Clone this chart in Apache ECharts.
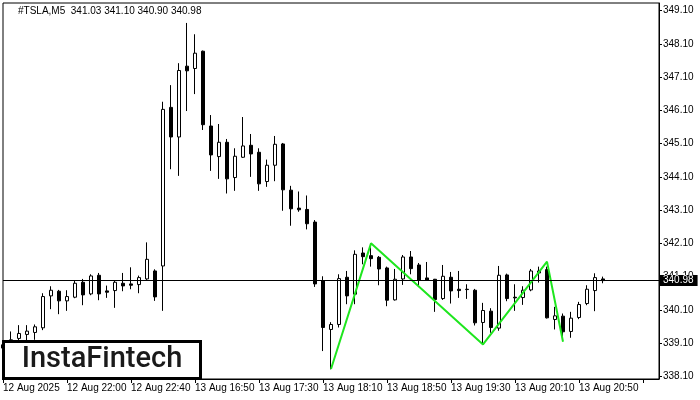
<!DOCTYPE html>
<html>
<head>
<meta charset="utf-8">
<script src="https://cdn.jsdelivr.net/npm/echarts@6/dist/echarts.min.js"></script>
<style>html,body{margin:0;padding:0;background:#fff}#c{width:700px;height:400px}</style>
</head>
<body>
<div id="c"></div>
<script>
const categories = [
 '12 Aug 21:20','12 Aug 21:25','12 Aug 21:30','12 Aug 21:35','12 Aug 21:40','12 Aug 21:45','12 Aug 21:50','12 Aug 21:55',
 '12 Aug 22:00','12 Aug 22:05','12 Aug 22:10','12 Aug 22:15','12 Aug 22:20','12 Aug 22:25','12 Aug 22:30','12 Aug 22:35',
 '12 Aug 22:40','12 Aug 22:45','12 Aug 22:50','12 Aug 22:55',
 '13 Aug 16:30','13 Aug 16:35','13 Aug 16:40','13 Aug 16:45','13 Aug 16:50','13 Aug 16:55','13 Aug 17:00','13 Aug 17:05',
 '13 Aug 17:10','13 Aug 17:15','13 Aug 17:20','13 Aug 17:25','13 Aug 17:30','13 Aug 17:35','13 Aug 17:40','13 Aug 17:45',
 '13 Aug 17:50','13 Aug 17:55','13 Aug 18:00','13 Aug 18:05','13 Aug 18:10','13 Aug 18:15','13 Aug 18:20','13 Aug 18:25',
 '13 Aug 18:30','13 Aug 18:35','13 Aug 18:40','13 Aug 18:45','13 Aug 18:50','13 Aug 18:55','13 Aug 19:00','13 Aug 19:05',
 '13 Aug 19:10','13 Aug 19:15','13 Aug 19:20','13 Aug 19:25','13 Aug 19:30','13 Aug 19:35','13 Aug 19:40','13 Aug 19:45',
 '13 Aug 19:50','13 Aug 19:55','13 Aug 20:00','13 Aug 20:05','13 Aug 20:10','13 Aug 20:15','13 Aug 20:20','13 Aug 20:25',
 '13 Aug 20:30','13 Aug 20:35','13 Aug 20:40','13 Aug 20:45','13 Aug 20:50','13 Aug 20:55','13 Aug 21:00','13 Aug 21:05'
];
// empty future slots on the right of the last bar (MT4 chart shift)
const futureSlots = ['13 Aug 21:10','13 Aug 21:15','13 Aug 21:20','13 Aug 21:25','13 Aug 21:30','13 Aug 21:35','13 Aug 21:40'];

const openP = [338.95,339.10,339.24,339.36,339.42,339.56,340.52,340.66,340.37,340.48,340.93,340.58,341.14,340.67,340.68,340.90,340.88,340.86,341.03,341.27,
 341.42,346.19,345.30,347.43,347.36,347.88,345.63,344.71,345.14,344.08,344.69,345.05,344.84,343.96,344.45,345.09,343.70,343.16,343.12,342.74,
 340.97,339.51,339.66,341.08,340.57,341.81,341.73,341.68,341.36,340.40,341.03,341.69,341.45,341.06,341.02,340.44,341.08,340.72,340.72,340.69,
 339.72,340.06,339.55,341.15,340.48,340.47,340.70,341.21,341.31,339.81,339.91,339.45,339.87,340.29,340.68,341.03];
const closeP = [339.05,339.20,339.39,339.46,339.59,340.50,340.69,340.37,340.50,340.90,340.55,341.12,340.58,340.63,340.93,340.82,340.84,341.07,341.62,340.49,
 346.13,345.30,347.30,347.29,347.82,345.67,344.76,345.14,344.04,344.72,345.03,344.79,343.89,344.45,345.08,343.71,343.14,343.11,342.69,340.88,
 339.57,339.66,341.04,340.52,341.77,341.70,341.64,341.33,340.39,341.02,341.69,341.34,340.99,340.99,340.41,341.11,340.67,340.68,340.71,339.71,
 340.08,339.57,341.14,340.44,340.46,340.69,341.27,341.27,339.86,339.92,339.44,339.85,340.26,340.72,341.07,340.98];
const lowP = [338.80,338.90,339.10,339.15,339.20,339.49,340.12,339.97,340.07,340.45,340.24,340.54,340.39,340.46,340.16,340.66,340.72,340.60,341.00,340.37,
 340.07,344.33,344.13,346.08,346.59,345.51,344.28,344.04,343.60,343.68,344.67,344.10,343.68,343.80,343.97,343.08,342.63,343.05,342.52,340.79,
 338.86,338.31,339.57,340.27,340.27,341.47,341.40,340.84,340.21,340.38,340.85,341.17,340.84,340.97,340.04,340.40,340.29,340.46,340.43,339.63,
 339.07,339.41,339.47,340.36,340.07,340.25,340.66,340.92,339.84,339.51,339.29,339.26,339.82,340.24,340.06,340.90];
const highP = [339.10,339.45,339.64,339.64,339.66,340.60,340.81,340.70,340.69,340.97,341.03,341.17,341.21,340.83,340.98,341.21,341.38,341.13,342.13,341.32,
 346.36,346.86,347.52,348.73,348.39,347.90,345.96,345.69,345.24,344.96,345.90,345.39,344.96,344.62,345.33,345.12,343.83,343.66,343.54,342.80,
 341.11,339.73,341.17,341.27,341.89,341.98,341.98,341.72,341.40,341.33,341.75,341.87,341.51,341.54,341.03,341.45,341.24,341.27,340.87,340.73,
 340.31,340.15,341.42,341.19,340.87,340.81,341.33,341.40,341.40,340.19,339.99,340.04,340.34,340.84,341.20,341.10];

const tickLabels = ['12 Aug 2025','12 Aug 22:00','12 Aug 22:40','13 Aug 16:50','13 Aug 17:30','13 Aug 18:10','13 Aug 18:50','13 Aug 19:30','13 Aug 20:10','13 Aug 20:50'];
const priceTicks = [338.10,339.10,340.10,341.10,342.10,343.10,344.10,345.10,346.10,347.10,348.10,349.10];
const patternIdx = [41,46,60,68,70];
const patternVal = [338.32,342.10,339.06,341.55,339.14];
const lastPrice = 340.98;
const titleText = '#TSLA,M5  341.03 341.10 340.90 340.98';

const FONT = 'Liberation Sans';
const candles = openP.map((o, i) => [o, closeP[i], lowP[i], highP[i]]);
const pattern = patternIdx.map((x, i) => [x, patternVal[i]]);

const chart = echarts.init(document.getElementById('c'), null, {renderer: 'canvas'});
chart.setOption({
  animation: false,
  backgroundColor: '#fff',
  grid: {left: 3, right: 41, top: 3, bottom: 21, show: true, borderColor: '#000', borderWidth: 1, backgroundColor: '#fff'},
  xAxis: {
    type: 'category',
    data: categories.concat(futureSlots),
    boundaryGap: false,
    axisLine: {show: true, lineStyle: {color: '#000', width: 1}},
    axisTick: {show: true, interval: 7, length: 4, lineStyle: {color: '#000'}},
    axisLabel: {
      interval: 7, align: 'left', margin: 4, fontSize: 10, fontFamily: FONT, color: '#000',
      formatter: (v, i) => (i % 8 === 0 && tickLabels[i / 8]) ? tickLabels[i / 8] : ''
    },
    splitLine: {show: false}
  },
  yAxis: {
    type: 'value',
    position: 'right',
    min: 338.02, max: 349.33,
    axisLine: {show: true, lineStyle: {color: '#000', width: 1}},
    axisTick: {show: true, customValues: priceTicks, length: 3, lineStyle: {color: '#000'}},
    axisLabel: {customValues: priceTicks, margin: 4, fontSize: 10, fontFamily: FONT, color: '#000', formatter: v => v.toFixed(2)},
    splitLine: {show: false}
  },
  series: [
    {
      type: 'candlestick',
      data: candles,
      barWidth: 4,
      z: 3,
      itemStyle: {color: '#ffffff', color0: '#000000', borderColor: '#000000', borderColor0: '#000000', borderWidth: 1}
    },
    {
      type: 'line',
      data: pattern,
      symbol: 'none',
      z: 4,
      lineStyle: {color: '#1ee61e', width: 2},
      markLine: {
        silent: true,
        symbol: ['none', 'none'],
        lineStyle: {color: '#000', width: 1, type: 'solid'},
        label: {
          show: true, position: 'end', distance: 1,
          formatter: lastPrice.toFixed(2),
          backgroundColor: '#000', color: '#fff', fontSize: 10, fontFamily: FONT,
          padding: [1, 4, 0, 3]
        },
        data: [{yAxis: lastPrice}]
      }
    }
  ],
  graphic: [
    {type: 'text', left: 18, top: 6, z: 10, style: {text: titleText, fontSize: 10, fontFamily: FONT, fill: '#000'}},
    {type: 'rect', z: 10, shape: {x: 3.5, y: 341.5, width: 197, height: 37}, style: {fill: '#fff', stroke: '#000', lineWidth: 3}},
    {type: 'text', z: 11, x: 102, y: 360, style: {text: 'InstaFintech', fontSize: 29, fontFamily: 'Roboto', fontWeight: 500, fill: '#1a1a1a', align: 'center', verticalAlign: 'middle'}}
  ]
});
</script>
</body>
</html>
